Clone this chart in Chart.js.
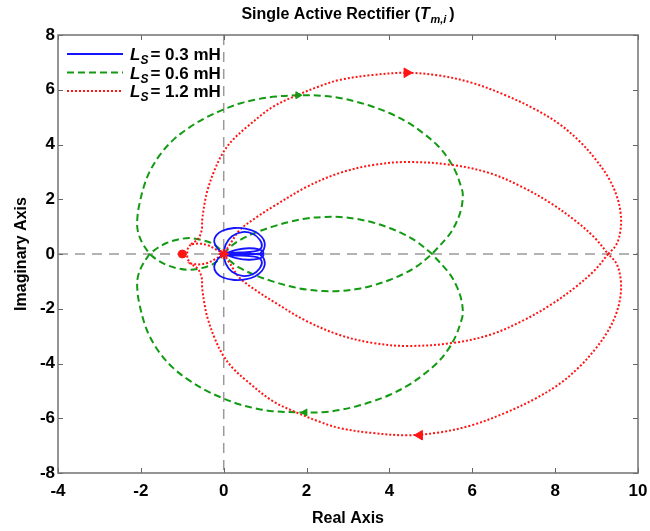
<!DOCTYPE html>
<html><head><meta charset="utf-8">
<script src="https://cdn.jsdelivr.net/npm/chart.js@4/dist/chart.umd.min.js"></script>
<style>html,body{margin:0;padding:0;background:#fff}canvas{display:block}</style>
</head><body>
<canvas id="c" width="650" height="531"></canvas>
<script>
// ---- axis ticks ----
const xTicks = [-4, -2, 0, 2, 4, 6, 8, 10];
const yTicks = [-8, -6, -4, -2, 0, 2, 4, 6, 8];
// ---- legend values (Ls in mH) ----
const legendValues = ['0.3', '0.6', '1.2'];

// ---- Ls = 0.3 mH (blue) ----
const blueOuterRe = [0.00, -0.15, -0.23, -0.18, -0.02, 0.25, 0.52, 0.75, 0.92, 0.99, 0.97, 0.90, 0.88, 0.90, 0.97, 0.99, 0.92, 0.75, 0.52, 0.25, -0.02, -0.18, -0.23, -0.15, 0.00];
const blueOuterIm = [0.00, 0.20, 0.45, 0.68, 0.86, 0.95, 0.93, 0.82, 0.62, 0.40, 0.18, 0.05, 0.00, -0.05, -0.18, -0.40, -0.62, -0.82, -0.93, -0.95, -0.86, -0.68, -0.45, -0.20, 0.00];
const blueMidUpRe = [0.00, 0.05, 0.20, 0.45, 0.70, 0.87, 0.92, 0.82, 0.55, 0.25, 0.00];
const blueMidUpIm = [0.00, 0.35, 0.65, 0.80, 0.74, 0.52, 0.28, 0.12, 0.07, 0.05, 0.00];
const blueMidLoRe = [0.00, 0.05, 0.20, 0.45, 0.70, 0.87, 0.92, 0.82, 0.55, 0.25, 0.00];
const blueMidLoIm = [0.00, -0.35, -0.65, -0.80, -0.74, -0.52, -0.28, -0.12, -0.07, -0.05, 0.00];
const blueFlatRe = [0.00, 0.30, 0.60, 0.85, 0.96, 0.85, 0.60, 0.30, 0.00, 0.30, 0.60, 0.85, 0.96, 0.85, 0.60, 0.30, 0.00];
const blueFlatIm = [0.00, 0.15, 0.21, 0.17, 0.05, -0.01, 0.02, 0.03, 0.00, -0.03, -0.02, 0.01, -0.05, -0.17, -0.21, -0.15, 0.00];

// ---- Ls = 0.6 mH (green) ----
const greenInnerUpRe = [0.00, 0.15, 0.39, 0.80, 1.18, 1.60, 2.00, 2.40, 2.80, 3.21, 3.60, 4.00, 4.35, 4.66, 5.03];
const greenInnerUpIm = [0.00, 0.25, 0.51, 0.80, 1.00, 1.18, 1.30, 1.35, 1.35, 1.28, 1.15, 0.95, 0.72, 0.45, 0.00];
const greenOuterLoRe = [5.03, 5.45, 5.63, 5.74, 5.77, 5.72, 5.60, 5.39, 5.15, 4.81, 4.45, 4.00, 3.60, 3.21, 2.80, 2.39, 1.96, 1.18, 0.80, 0.39, 0.00, -0.41, -0.85, -1.23, -1.55, -1.79, -1.92, -2.03, -2.08, -2.08, -1.98, -1.79];
const greenOuterLoIm = [0.00, -0.72, -1.20, -1.70, -2.20, -2.50, -3.00, -3.55, -3.98, -4.42, -4.80, -5.15, -5.38, -5.56, -5.70, -5.78, -5.79, -5.74, -5.65, -5.50, -5.28, -5.00, -4.60, -4.15, -3.60, -3.00, -2.50, -1.86, -1.40, -0.90, -0.45, 0.00];
const greenLobeUpRe = [-1.79, -1.60, -1.38, -1.10, -0.82, -0.55, -0.27, -0.10, 0.00];
const greenLobeUpIm = [0.00, 0.22, 0.40, 0.53, 0.58, 0.52, 0.38, 0.18, 0.00];
const greenLobeLoRe = [0.00, -0.10, -0.27, -0.55, -0.82, -1.10, -1.38, -1.60, -1.79];
const greenLobeLoIm = [0.00, -0.18, -0.38, -0.52, -0.58, -0.53, -0.40, -0.22, 0.00];
const greenOuterUpRe = [-1.79, -1.98, -2.08, -2.08, -2.03, -1.92, -1.79, -1.55, -1.23, -0.85, -0.41, 0.00, 0.39, 0.80, 1.18, 1.79, 2.39, 2.80, 3.21, 3.60, 4.00, 4.45, 4.81, 5.15, 5.39, 5.60, 5.72, 5.77, 5.74, 5.63, 5.45, 5.03];
const greenOuterUpIm = [0.00, 0.45, 0.90, 1.40, 1.86, 2.50, 3.00, 3.60, 4.15, 4.60, 5.00, 5.28, 5.50, 5.65, 5.74, 5.80, 5.78, 5.70, 5.56, 5.38, 5.15, 4.80, 4.42, 3.98, 3.55, 3.00, 2.50, 2.20, 1.70, 1.20, 0.72, 0.00];
const greenInnerLoRe = [5.03, 4.66, 4.35, 4.00, 3.60, 3.21, 2.80, 2.40, 2.00, 1.60, 1.18, 0.80, 0.39, 0.15, 0.00];
const greenInnerLoIm = [0.00, -0.45, -0.72, -0.95, -1.15, -1.28, -1.35, -1.35, -1.30, -1.18, -1.00, -0.80, -0.51, -0.25, 0.00];

// ---- Ls = 1.2 mH (red) ----
const redOuterUpRe = [9.28, 9.48, 9.58, 9.58, 9.48, 9.28, 8.98, 8.60, 8.10, 7.50, 6.80, 6.00, 5.20, 4.42, 3.60, 2.80, 2.30, 1.79, 1.18, 0.56, 0.22, -0.02, -0.22, -0.39, -0.46, -0.52, -0.53, -0.62, -0.80];
const redOuterUpIm = [0.00, 0.35, 0.90, 1.50, 2.15, 2.80, 3.45, 4.10, 4.75, 5.30, 5.80, 6.25, 6.52, 6.62, 6.54, 6.36, 6.12, 5.81, 5.37, 4.64, 4.17, 3.69, 3.07, 2.34, 1.86, 1.24, 0.88, 0.55, 0.35];
const redSmallUpRe = [-0.80, -0.60, -0.40, -0.20, 0.00];
const redSmallUpIm = [0.35, 0.38, 0.33, 0.18, 0.00];
const redInnerUpRe = [0.00, 0.15, 0.39, 0.80, 1.18, 2.00, 2.80, 3.60, 4.42, 5.53, 6.43, 7.20, 7.90, 8.50, 8.95, 9.28];
const redInnerUpIm = [0.00, 0.35, 0.88, 1.35, 1.72, 2.45, 2.96, 3.25, 3.36, 3.25, 2.95, 2.45, 1.85, 1.20, 0.60, 0.00];
const redInnerLoRe = [9.28, 8.95, 8.50, 7.90, 7.20, 6.43, 5.53, 4.42, 3.60, 2.80, 2.00, 1.18, 0.80, 0.39, 0.15, 0.00];
const redInnerLoIm = [0.00, -0.60, -1.20, -1.85, -2.45, -2.95, -3.25, -3.36, -3.25, -2.96, -2.45, -1.72, -1.35, -0.88, -0.35, 0.00];
const redSmallLoRe = [0.00, -0.20, -0.40, -0.60, -0.80];
const redSmallLoIm = [0.00, -0.18, -0.33, -0.38, -0.35];
const redOuterLoRe = [-0.80, -0.62, -0.53, -0.52, -0.46, -0.39, -0.22, -0.02, 0.22, 0.56, 1.18, 1.79, 2.30, 2.80, 3.60, 4.42, 5.20, 6.00, 6.80, 7.50, 8.10, 8.60, 8.98, 9.28, 9.48, 9.58, 9.58, 9.48, 9.28];
const redOuterLoIm = [-0.35, -0.55, -0.88, -1.24, -1.86, -2.34, -3.07, -3.69, -4.17, -4.64, -5.37, -5.81, -6.12, -6.36, -6.54, -6.62, -6.52, -6.25, -5.80, -5.30, -4.75, -4.10, -3.45, -2.80, -2.15, -1.50, -0.90, -0.35, 0.00];
const redLeftRe = [-0.80, -0.87, -0.88, -0.87, -0.80];
const redLeftIm = [0.35, 0.18, 0.00, -0.18, -0.35];

// ---- markers ----
const redArrowRe = [4.42, 4.73];
const redArrowIm = [6.62, -6.62];
const greenArrowRe = [1.79, 1.96];
const greenArrowIm = [5.80, -5.79];
const arrowRotation = [90, 270];
const critRe = [-1.0];
const critIm = [0.0];
const originRe = [0.0];
const originIm = [0.0];

const BLUE = '#1414ff', GREEN = '#129a12', RED = '#ff1414';
const FONT = '"Liberation Sans", Arial, Helvetica, sans-serif';

function pts(re, im) { return re.map((v, i) => ({ x: v, y: im[i] })); }
function join(...branches) {
  let out = [];
  for (let i = 0; i < branches.length; i += 2) out = out.concat(pts(branches[i], branches[i + 1]));
  return out;
}

const lineBase = { showLine: true, pointRadius: 0, borderWidth: 2, tension: 0.35, fill: false };

const datasets = [
  { data: pts(redArrowRe, redArrowIm), pointStyle: 'triangle', pointRotation: arrowRotation, pointRadius: 5.5, backgroundColor: RED, borderColor: RED, borderWidth: 1, showLine: false },
  { data: pts(greenArrowRe, greenArrowIm), pointStyle: 'triangle', pointRotation: arrowRotation, pointRadius: 4, backgroundColor: GREEN, borderColor: GREEN, borderWidth: 1, showLine: false },
  { data: pts(critRe, critIm), pointStyle: 'circle', pointRadius: 4, backgroundColor: RED, borderColor: RED, showLine: false },
  { data: pts(originRe, originIm), pointStyle: 'star', pointRadius: 5, backgroundColor: RED, borderColor: RED, borderWidth: 2, showLine: false },
  Object.assign({ label: 'blueOuter', data: pts(blueOuterRe, blueOuterIm), borderColor: BLUE }, lineBase, { borderWidth: 1.8 }),
  Object.assign({ label: 'blueInner', data: join(blueMidUpRe, blueMidUpIm, blueFlatRe, blueFlatIm, blueMidLoRe, blueMidLoIm), borderColor: BLUE }, lineBase, { borderWidth: 1.8 }),
  Object.assign({ label: 'red', data: join(redOuterUpRe, redOuterUpIm, redSmallUpRe, redSmallUpIm, redInnerUpRe, redInnerUpIm, redInnerLoRe, redInnerLoIm, redSmallLoRe, redSmallLoIm, redOuterLoRe, redOuterLoIm), borderColor: RED, borderDash: [2, 2] }, lineBase),
  Object.assign({ label: 'redLeft', data: pts(redLeftRe, redLeftIm), borderColor: RED, borderDash: [2, 2] }, lineBase),
  Object.assign({ label: 'green', data: join(greenInnerUpRe, greenInnerUpIm, greenOuterLoRe, greenOuterLoIm, greenLobeUpRe, greenLobeUpIm, greenLobeLoRe, greenLobeLoIm, greenOuterUpRe, greenOuterUpIm, greenInnerLoRe, greenInnerLoIm), borderColor: GREEN, borderDash: [7, 4] }, lineBase)
];

function drawRich(ctx, segs, x, y, align) {
  let total = 0;
  segs.forEach(s => { ctx.font = s.font; s.w = ctx.measureText(s.t).width; total += s.w + (s.gap || 0); });
  let cx = align === 'center' ? x - total / 2 : x;
  ctx.textBaseline = 'alphabetic';
  ctx.textAlign = 'left';
  segs.forEach(s => { ctx.font = s.font; ctx.fillText(s.t, cx, y + (s.dy || 0)); cx += s.w + (s.gap || 0); });
}

const framePlugin = {
  id: 'frame',
  beforeDatasetsDraw(chart) {
    const { ctx, chartArea: a, scales: { x, y } } = chart;
    ctx.save();
    ctx.strokeStyle = '#9a9a9a'; ctx.lineWidth = 1.5; ctx.setLineDash([10, 7]);
    const x0 = x.getPixelForValue(0), y0 = y.getPixelForValue(0);
    ctx.beginPath();
    ctx.moveTo(x0, a.top); ctx.lineTo(x0, a.bottom);
    ctx.moveTo(a.left, y0); ctx.lineTo(a.right, y0);
    ctx.stroke();
    ctx.restore();
  },
  afterDatasetsDraw(chart) {
    const { ctx, chartArea: a, scales: { x, y } } = chart;
    ctx.save();
    ctx.strokeStyle = '#666'; ctx.lineWidth = 1;
    ctx.beginPath();
    x.ticks.forEach(t => { const p = Math.round(x.getPixelForValue(t.value)) + 0.5; ctx.moveTo(p, a.bottom); ctx.lineTo(p, a.bottom - 5); ctx.moveTo(p, a.top); ctx.lineTo(p, a.top + 5); });
    y.ticks.forEach(t => { const p = Math.round(y.getPixelForValue(t.value)) + 0.5; ctx.moveTo(a.left, p); ctx.lineTo(a.left + 5, p); ctx.moveTo(a.right, p); ctx.lineTo(a.right - 5, p); });
    ctx.stroke();
    ctx.strokeStyle = '#727272'; ctx.lineWidth = 1.5;
    ctx.strokeRect(a.left, a.top, a.right - a.left, a.bottom - a.top);
    ctx.restore();
  },
  afterDraw(chart) {
    const { ctx, chartArea: a } = chart;
    ctx.save();
    ctx.fillStyle = '#000';
    // title
    drawRich(ctx, [
      { t: 'Single Active Rectifier (', font: 'bold 16px ' + FONT },
      { t: 'T', font: 'italic bold 16px ' + FONT, gap: 0.5 },
      { t: 'm,i', font: 'italic bold 11px ' + FONT, dy: 4, gap: 3 },
      { t: ')', font: 'bold 16px ' + FONT }
    ], (a.left + a.right) / 2, 19, 'center');
    // legend
    const lineColors = [BLUE, GREEN, RED];
    const dashes = [[], [7, 4], [2, 2]];
    legendValues.forEach((v, i) => {
      const yy = a.top + 19 + i * 18.5;
      ctx.save();
      ctx.strokeStyle = lineColors[i]; ctx.lineWidth = 2; ctx.setLineDash(dashes[i]);
      ctx.beginPath(); ctx.moveTo(a.left + 9, yy); ctx.lineTo(a.left + 65, yy); ctx.stroke();
      ctx.restore();
      drawRich(ctx, [
        { t: 'L', font: 'italic bold 17px ' + FONT },
        { t: 'S', font: 'italic bold 12px ' + FONT, dy: 4, gap: 2 },
        { t: '= ' + v + ' mH', font: 'bold 17px ' + FONT }
      ], a.left + 72, yy + 6, 'left');
    });
    ctx.restore();
  }
};

new Chart(document.getElementById('c'), {
  type: 'scatter',
  data: { datasets },
  options: {
    responsive: false,
    animation: false,
    events: [],
    layout: { padding: { top: 35, right: 12, left: 0, bottom: 0 } },
    plugins: { legend: { display: false }, tooltip: { enabled: false }, title: { display: false } },
    scales: {
      x: {
        type: 'linear', min: -4, max: 10,
        afterBuildTicks: s => { s.ticks = xTicks.map(v => ({ value: v })); },
        afterFit: s => { s.height = 58; s.paddingLeft = 0; s.paddingRight = 0; },
        grid: { display: false, drawTicks: false },
        border: { display: false },
        ticks: { color: '#000', font: { family: FONT, size: 17, weight: 'bold' }, padding: 8, maxRotation: 0, autoSkip: false },
        title: { display: true, text: 'Real Axis', color: '#000', font: { family: FONT, size: 16, weight: 'bold' }, padding: { top: 0, bottom: 3 } }
      },
      y: {
        type: 'linear', min: -8, max: 8,
        afterBuildTicks: s => { s.ticks = yTicks.map(v => ({ value: v })); },
        afterFit: s => { s.width = 58; s.paddingTop = 0; s.paddingBottom = 0; },
        grid: { display: false, drawTicks: false },
        border: { display: false },
        ticks: { color: '#000', font: { family: FONT, size: 17, weight: 'bold' }, padding: 3, autoSkip: false },
        title: { display: true, text: 'Imaginary Axis', color: '#000', font: { family: FONT, size: 16, weight: 'bold' }, padding: { top: 12, bottom: 0 } }
      }
    }
  },
  plugins: [framePlugin]
});
</script>
</body></html>
